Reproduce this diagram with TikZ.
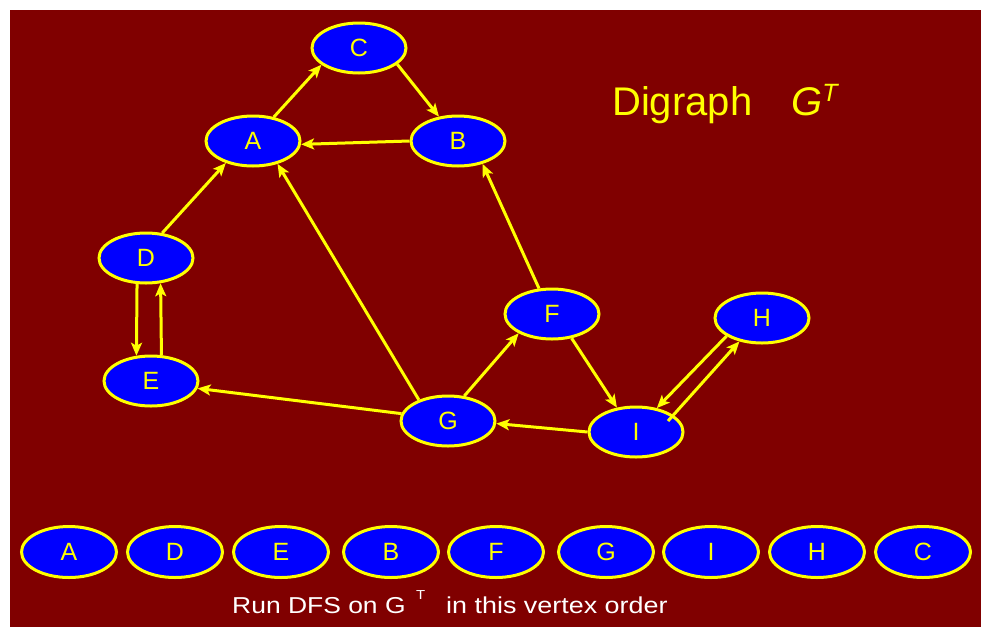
\documentclass[tikz,border=0pt]{standalone}
\usepackage{fontspec}
\setmainfont{Liberation Sans}
\usetikzlibrary{arrows.meta,calc,shapes.geometric}
\definecolor{bgred}{RGB}{128,0,0}
\definecolor{nodeblue}{RGB}{0,0,255}
\definecolor{ylw}{RGB}{255,255,0}
\tikzset{
  vtx/.style={ellipse, draw=ylw, fill=nodeblue, line width=3pt, minimum width=94pt, minimum height=50pt, inner sep=0pt, text=ylw, font=\fontsize{25pt}{25pt}\selectfont},
  bvtx/.style={vtx, minimum width=95pt, minimum height=51pt},
  edge/.style={draw=ylw, line width=3pt, -{Stealth[length=13pt,width=11pt,inset=3pt]}},
  captxt/.style={anchor=base west, text=white, inner sep=0pt, font=\fontsize{23pt}{23pt}\selectfont}
}
\begin{document}
\begin{tikzpicture}[x=1pt,y=-1pt]
\useasboundingbox (0,0) rectangle (981,627);
\fill[white] (0,0) rectangle (981,627);
\fill[bgred] (10,10) rectangle (981,627);
% graph nodes
\node[vtx] (C) at (359,48) {C};
\node[vtx] (A) at (253,141) {A};
\node[vtx] (B) at (458,141) {B};
\node[vtx] (D) at (146,258) {D};
\node[vtx] (E) at (151,381) {E};
\node[vtx] (F) at (552,314) {F};
\node[vtx] (H) at (762,318) {H};
\node[vtx] (G) at (448,421) {G};
\node[vtx] (I) at (636,432) {I};
% edges
\draw[edge] (A.49) -- (C.204);
\draw[edge] (C.337) -- (B.128);
\draw[edge] (B.180) -- (A.356);
\draw[edge] (D.57) -- (A.219);
\draw[edge] (D.251) -- (E.120);
\draw[edge] (E.68) -- (D.300);
\draw[edge] (G.144) -- (A.317);
\draw[edge] (G.171) -- (E.351);
\draw[edge] (G.57) -- (F.210);
\draw[edge] (F.117) -- (B.317);
\draw[edge] (F.309) -- (I.128);
\draw[edge] (I.180) -- (G.357);
\draw[edge] (H.207) -- (I.49);
\coordinate (Ih) at ($(I)+(32,-11)$);
\draw[edge] (Ih) -- (H.226);
% title
\node[anchor=base west, text=ylw, font=\fontsize{40pt}{40pt}\selectfont, inner sep=0pt] (title) at (612,115) {Digraph};
\node[anchor=base west, text=ylw, font=\fontsize{40pt}{40pt}\selectfont\itshape, inner sep=0pt] (gt) at (791,115) {G\raisebox{14pt}{\fontsize{25pt}{25pt}\selectfont T}};
% order row
\foreach \n/\x in {A/69,D/175,E/281,B/391,F/496,G/606,I/711,H/817,C/923}{
  \node[bvtx] (o\n) at (\x,552) {\n};
}
\node[captxt] (cap1) at (232,613) {\scalebox{1.15}[1]{Run DFS on G}};
\node[captxt, font=\fontsize{13pt}{13pt}\selectfont] (capT) at (416,599) {\scalebox{1.15}[1]{T}};
\node[captxt] (cap2) at (446,613) {\scalebox{1.17}[1]{in this vertex order}};
\end{tikzpicture}
\end{document}
